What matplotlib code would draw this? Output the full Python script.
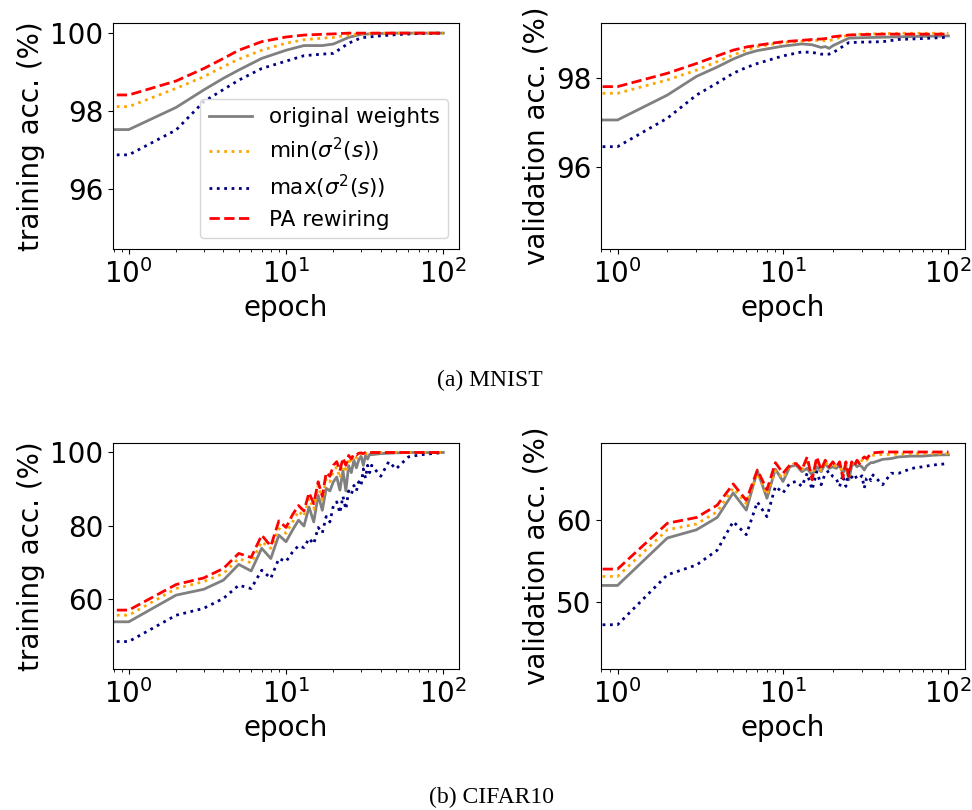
import matplotlib.pyplot as plt

# MNIST curves (epoch 0 is repeated from epoch 1 so the line runs to the left edge)
mnist_train_epochs = [0, 1, 2, 3, 4, 5, 7, 10, 13, 17, 20, 25, 30, 40, 50, 70, 100]
mnist_train_orig = [97.52, 97.52, 98.09, 98.54, 98.84, 99.05, 99.35, 99.56, 99.68, 99.68, 99.72, 99.89, 99.97, 99.99, 100.0, 100.0, 100.0]
mnist_train_min = [98.11, 98.11, 98.58, 98.88, 99.14, 99.33, 99.56, 99.74, 99.83, 99.87, 99.89, 99.95, 99.98, 100.0, 100.0, 100.0, 100.0]
mnist_train_max = [96.87, 96.87, 97.51, 98.24, 98.55, 98.79, 99.09, 99.28, 99.42, 99.46, 99.48, 99.74, 99.88, 99.93, 99.96, 99.99, 100.0]
mnist_train_pa = [98.41, 98.41, 98.77, 99.09, 99.35, 99.56, 99.78, 99.90, 99.95, 99.97, 99.98, 100.0, 100.0, 100.0, 100.0, 100.0, 100.0]

mnist_val_epochs = [0, 1, 2, 3, 4, 5, 6, 7, 10, 13, 15, 17, 18, 19, 20, 25, 30, 40, 50, 70, 100]
mnist_val_orig = [97.05, 97.05, 97.61, 98.03, 98.24, 98.42, 98.54, 98.61, 98.71, 98.76, 98.74, 98.68, 98.70, 98.66, 98.72, 98.89, 98.90, 98.91, 98.92, 98.93, 98.94]
mnist_val_min = [97.65, 97.65, 97.95, 98.17, 98.36, 98.51, 98.62, 98.70, 98.79, 98.82, 98.84, 98.84, 98.83, 98.83, 98.86, 98.96, 98.98, 98.99, 99.0, 99.0, 99.0]
mnist_val_max = [96.45, 96.45, 97.09, 97.61, 97.88, 98.10, 98.23, 98.32, 98.49, 98.58, 98.57, 98.53, 98.53, 98.53, 98.56, 98.79, 98.80, 98.81, 98.86, 98.88, 98.91]
mnist_val_pa = [97.80, 97.80, 98.10, 98.32, 98.49, 98.62, 98.69, 98.73, 98.81, 98.84, 98.86, 98.87, 98.88, 98.89, 98.92, 98.96, 98.97, 98.98, 98.98, 98.98, 98.98]

# CIFAR10 curves
cifar_epochs = [0, 1, 2, 3, 4, 5, 6, 7, 8, 9, 10, 11, 12, 13, 14, 15, 16, 17, 18, 19, 20,
                21, 22, 23, 24, 25, 26, 27, 28, 29, 30, 31, 32, 33, 34, 35,
                40, 45, 50, 60, 70, 80, 90, 100]
cifar_train_orig = [53.7, 53.7, 61.0, 62.6, 65.1, 69.4, 67.6, 73.8, 71.0, 77.4, 75.6, 78.8, 81.5, 79.9, 85.1, 81.0, 88.3, 84.2, 90.2, 89.5, 92.0,
                    93.3, 89.7, 95.0, 89.5, 96.4, 94.5, 97.9, 95.8, 98.0, 99.0, 96.5, 99.2, 98.2, 99.5, 99.4,
                    99.7, 99.8, 99.9, 100.0, 100.0, 100.0, 100.0, 100.0]
cifar_train_min = [55.5, 55.5, 62.8, 64.7, 66.9, 71.0, 69.8, 75.6, 73.8, 79.2, 77.9, 81.0, 84.0, 82.5, 87.5, 84.5, 91.0, 87.0, 93.0, 92.0, 95.0,
                   96.0, 93.0, 97.5, 94.5, 98.5, 97.0, 99.2, 98.5, 99.5, 99.7, 99.0, 99.8, 99.6, 99.9, 99.9,
                   100.0, 100.0, 100.0, 100.0, 100.0, 100.0, 100.0, 100.0]
cifar_train_max = [48.3, 48.3, 55.5, 57.4, 60.1, 63.7, 62.8, 67.8, 65.6, 71.0, 70.2, 72.8, 74.5, 74.0, 76.5, 75.0, 79.5, 78.0, 82.5, 81.0, 85.5,
                   86.5, 83.5, 88.0, 84.5, 89.5, 88.5, 91.0, 89.5, 92.0, 91.0, 95.5, 93.0, 96.5, 94.5, 96.5,
                   93.5, 97.5, 95.5, 98.8, 99.3, 99.6, 99.8, 100.0]
cifar_train_pa = [56.9, 56.9, 63.9, 65.7, 68.3, 72.4, 71.3, 77.4, 74.4, 81.3, 79.5, 83.0, 85.5, 84.0, 89.0, 86.0, 92.0, 88.0, 94.5, 93.5, 96.5,
                  97.5, 95.0, 98.5, 96.5, 99.2, 98.2, 99.6, 99.3, 99.8, 99.9, 99.7, 100.0, 100.0, 100.0, 100.0,
                  100.0, 100.0, 100.0, 100.0, 100.0, 100.0, 100.0, 100.0]

cifar_val_orig = [52.0, 52.0, 57.8, 58.8, 60.3, 63.3, 61.2, 66.0, 62.65, 66.2, 64.7, 66.5, 66.7, 65.9, 66.3, 65.5, 66.5, 65.9, 66.9, 66.3, 66.5,
                  66.3, 66.7, 65.7, 66.5, 64.9, 66.6, 66.9, 66.5, 66.7, 66.5, 66.1, 66.6, 66.8, 67.0, 67.0,
                  67.4, 67.5, 67.7, 67.8, 67.8, 67.9, 67.95, 67.96]
cifar_val_min = [53.1, 53.1, 58.8, 59.5, 61.0, 63.9, 62.0, 65.7, 63.1, 66.0, 65.1, 66.6, 67.0, 66.0, 67.4, 65.2, 67.4, 66.0, 67.2, 66.4, 67.0,
                 66.4, 67.0, 65.4, 67.0, 65.2, 67.0, 66.8, 67.2, 66.8, 67.3, 67.5, 67.3, 67.6, 67.8, 67.9,
                 68.0, 68.0, 68.05, 68.1, 68.1, 68.1, 68.1, 68.1]
cifar_val_max = [47.2, 47.2, 53.3, 54.5, 56.3, 59.8, 58.2, 62.2, 60.4, 64.1, 63.3, 64.5, 64.7, 64.1, 65.7, 63.7, 65.9, 64.3, 65.7, 66.0, 65.3,
                 65.0, 64.1, 65.5, 64.1, 65.9, 65.2, 65.6, 65.0, 65.1, 65.4, 63.9, 65.1, 65.3, 64.8, 65.5,
                 64.3, 65.7, 65.7, 66.3, 66.5, 66.7, 66.8, 66.9]
cifar_val_pa = [54.0, 54.0, 59.6, 60.3, 61.8, 64.4, 62.4, 66.1, 63.7, 67.0, 65.7, 66.7, 66.9, 66.1, 67.7, 64.9, 67.7, 66.1, 67.3, 66.5, 67.1,
                66.5, 67.1, 65.1, 67.1, 65.3, 67.1, 66.6, 67.3, 66.9, 67.4, 67.7, 67.5, 67.8, 68.0, 68.2,
                68.3, 68.3, 68.3, 68.3, 68.3, 68.3, 68.3, 68.3]

labels = ['original weights', r'min($\sigma^2(s)$)', r'max($\sigma^2(s)$)', 'PA rewiring']
colors = ['gray', 'orange', 'navy', 'red']
styles = ['-', ':', ':', '--']

fig = plt.figure(figsize=(9.72, 8.1), dpi=100)

# axes placed like the two side-by-side subfigures in the paper
ax_tl = fig.add_axes([0.1163, 0.6926, 0.356, 0.279])
ax_tr = fig.add_axes([0.6183, 0.6926, 0.3745, 0.279])
ax_bl = fig.add_axes([0.1163, 0.1741, 0.356, 0.279])
ax_br = fig.add_axes([0.6183, 0.1741, 0.3745, 0.279])

panels = [
    (ax_tl, mnist_train_epochs, [mnist_train_orig, mnist_train_min, mnist_train_max, mnist_train_pa],
     'training acc. (%)', (94.45, 100.26), [96, 98, 100]),
    (ax_tr, mnist_val_epochs, [mnist_val_orig, mnist_val_min, mnist_val_max, mnist_val_pa],
     'validation acc. (%)', (94.15, 99.23), [96, 98]),
    (ax_bl, cifar_epochs, [cifar_train_orig, cifar_train_min, cifar_train_max, cifar_train_pa],
     'training acc. (%)', (40.8, 102.6), [60, 80, 100]),
    (ax_br, cifar_epochs, [cifar_val_orig, cifar_val_min, cifar_val_max, cifar_val_pa],
     'validation acc. (%)', (41.8, 69.4), [50, 60]),
]

for ax, ep, series, ylab, ylim, yticks in panels:
    for vals, lab, c, ls in zip(series, labels, colors, styles):
        ax.plot(ep, vals, color=c, linestyle=ls, linewidth=2, label=lab)
    ax.set_xscale('log')
    ax.set_xlim(10 ** -0.1, 10 ** 2.1)
    ax.set_ylim(*ylim)
    ax.set_yticks(yticks)
    ax.set_xlabel('epoch', fontsize=20)
    ax.set_ylabel(ylab, fontsize=20)
    ax.tick_params(axis='both', which='major', labelsize=20)

ax_tl.legend(loc='lower right', fontsize=15.5, labelspacing=0.4)

# subfigure captions
fig.text(0.504, 0.530, '(a) MNIST', family='Liberation Serif', fontsize=17, ha='center', va='center')
fig.text(0.506, 0.016, '(b) CIFAR10', family='Liberation Serif', fontsize=17, ha='center', va='center')

fig.savefig('out.png', dpi=100)
